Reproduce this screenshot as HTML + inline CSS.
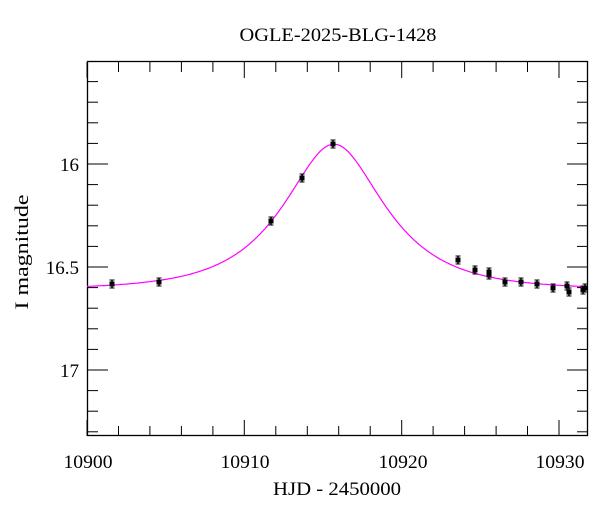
<!DOCTYPE html>
<html><head><meta charset="utf-8"><style>
html,body{margin:0;padding:0;background:#fff;}
svg text{font-family:"Liberation Serif",serif;fill:#000;}
</style></head><body>
<svg id="s" width="600" height="512" xmlns="http://www.w3.org/2000/svg">
<rect x="0" y="0" width="600" height="512" fill="#fff"/>
<text x="338" y="41" font-size="19" text-anchor="middle" textLength="197" lengthAdjust="spacingAndGlyphs">OGLE-2025-BLG-1428</text>
<g id="ticks" stroke="#000" stroke-width="1"></g>
<rect x="87.5" y="61.5" width="500" height="374" fill="none" stroke="#000" stroke-width="1.3"/>
<path id="curve" fill="none" stroke="#ff00ff" stroke-width="1.2"/>
<g id="pts" stroke="#000" fill="#000"></g>
<g font-size="19" text-anchor="middle">
<text x="88" y="468" textLength="49" lengthAdjust="spacingAndGlyphs">10900</text>
<text x="245" y="468" textLength="49" lengthAdjust="spacingAndGlyphs">10910</text>
<text x="403" y="468" textLength="49" lengthAdjust="spacingAndGlyphs">10920</text>
<text x="560" y="468" textLength="49" lengthAdjust="spacingAndGlyphs">10930</text>
<text x="337" y="495" textLength="128" lengthAdjust="spacingAndGlyphs">HJD - 2450000</text>
</g>
<g font-size="19" text-anchor="end">
<text x="79" y="171">16</text>
<text x="79" y="274">16.5</text>
<text x="79" y="377">17</text>
</g>
<text transform="translate(28,252) rotate(-90)" font-size="19" text-anchor="middle" textLength="115" lengthAdjust="spacingAndGlyphs">I magnitude</text>
</svg>
<script>
function X(t){return 87+(t-10900)*15.733;}
function Y(m){return 164+(m-16)*206;}
var tk=document.getElementById("ticks"),h="";
for(var t=10900;t<=10931.8;t+=2){var x=X(t).toFixed(1);var L=(Math.round(t)%10==0)?16:10;
h+='<line x1="'+x+'" y1="436" x2="'+x+'" y2="'+(436-L)+'"/><line x1="'+x+'" y1="62" x2="'+x+'" y2="'+(62+L)+'"/>';}
for(var i=0;i<=18;i++){var m=15.5+i*0.1;var y=Y(m);if(y<62||y>436)continue;var L=(i%5==0)?20:10;
h+='<line x1="88" y1="'+y.toFixed(1)+'" x2="'+(88+L)+'" y2="'+y.toFixed(1)+'"/><line x1="587" y1="'+y.toFixed(1)+'" x2="'+(587-L)+'" y2="'+y.toFixed(1)+'"/>';}
tk.innerHTML=h;
var d="";
for(var t=10900;t<=10931.8;t+=0.1){var u0=0.587,tE=5.1,t0=10915.7;var dt=(t-t0)/tE;var u=Math.sqrt(u0*u0+dt*dt);
var A=(u*u+2)/(u*Math.sqrt(u*u+4));var m=16.61-2.5*Math.log10(A);
d+=(d?"L":"M")+X(t).toFixed(1)+","+Y(m).toFixed(1);}
document.getElementById("curve").setAttribute("d",d);
var P=[[112,284],[159,282],[271,221],[302,178],[333,144],[458,260],[475,270],[489,272],[489,275],[505,282],[521,282],[537,284],[553,288],[567,286],[569,292],[583,290],[585,288]];
var ph="";P.forEach(function(p){ph+='<rect x="'+(p[0]-2)+'" y="'+(p[1]-2)+'" width="4" height="4"/><line x1="'+p[0]+'" y1="'+(p[1]-4)+'" x2="'+p[0]+'" y2="'+(p[1]+4)+'" stroke-width="1.5"/><line x1="'+(p[0]-2.5)+'" y1="'+(p[1]-4)+'" x2="'+(p[0]+2.5)+'" y2="'+(p[1]-4)+'"/><line x1="'+(p[0]-2.5)+'" y1="'+(p[1]+4)+'" x2="'+(p[0]+2.5)+'" y2="'+(p[1]+4)+'"/>';});
document.getElementById("pts").innerHTML=ph;
</script>
</body></html>
